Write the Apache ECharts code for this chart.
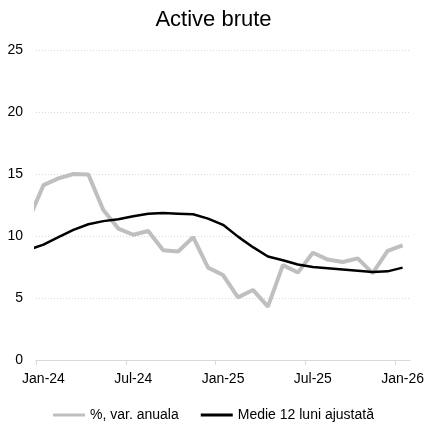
<!DOCTYPE html>
<html>
<head>
<meta charset="utf-8">
<script src="https://cdn.jsdelivr.net/npm/echarts@6/dist/echarts.min.js"></script>
<style>
    html, body { margin: 0; padding: 0; background: #fff; }
    #chart { width: 427px; height: 430px; }
</style>
</head>
<body>
<div id="chart"></div>
<script>
// first month (Dec-23) sits left of the axis and only shows as a clipped segment
let months = ['Dec-23',
    'Jan-24', 'Feb-24', 'Mar-24', 'Apr-24', 'May-24', 'Jun-24', 'Jul-24', 'Aug-24', 'Sep-24', 'Oct-24', 'Nov-24', 'Dec-24',
    'Jan-25', 'Feb-25', 'Mar-25', 'Apr-25', 'May-25', 'Jun-25', 'Jul-25', 'Aug-25', 'Sep-25', 'Oct-25', 'Nov-25', 'Dec-25',
    'Jan-26'];

let varAnuala = [11.3,
    14.1, 14.65, 15.0, 14.95, 12.1, 10.6, 10.1, 10.4, 8.85, 8.75, 9.9, 7.45,
    6.85, 5.05, 5.65, 4.3, 7.65, 7.05, 8.65, 8.1, 7.9, 8.2, 7.0, 8.8,
    9.25];

let medie12 = [8.9,
    9.3, 9.9, 10.5, 10.95, 11.2, 11.35, 11.6, 11.8, 11.85, 11.8, 11.75, 11.4,
    10.9, 9.95, 9.1, 8.35, 8.05, 7.7, 7.5, 7.4, 7.3, 7.2, 7.1, 7.15,
    7.45];

let labelMonths = ['Jan-24', 'Jul-24', 'Jan-25', 'Jul-25', 'Jan-26'];
let yTicks = [0, 5, 10, 15, 20, 25];

let font = 'Liberation Sans, Arial, sans-serif';

// x position = month index, Jan-24 = 0
let monthPos = months.map((m, i) => i - 1);
let labelPos = labelMonths.map(m => months.indexOf(m) - 1);
let tickPos = labelPos.map(p => p - 0.5);

let option = {
    animation: false,
    backgroundColor: '#fff',
    textStyle: { fontFamily: font },
    title: {
        text: 'Active brute',
        left: 'center',
        top: 4,
        textStyle: { fontFamily: font, fontSize: 22, fontWeight: 'normal', color: '#000' }
    },
    legend: {
        bottom: 3,
        left: 'center',
        itemWidth: 32,
        itemHeight: 3,
        itemGap: 22,
        textStyle: { fontFamily: font, fontSize: 14, color: '#000' },
        data: [
            { name: '%, var. anuala', icon: 'rect', itemStyle: { color: '#bfbfbf' } },
            { name: 'Medie 12 luni ajustată', icon: 'rect', itemStyle: { color: '#000' } }
        ]
    },
    grid: { left: 36, right: 14, top: 50, bottom: 70 },
    xAxis: {
        type: 'value',
        min: -0.5,
        max: monthPos[monthPos.length - 1] + 0.5,
        axisLine: { show: true, onZero: false, lineStyle: { color: '#d9d9d9', width: 1 } },
        axisTick: { show: true, customValues: tickPos, length: 5, lineStyle: { color: '#d9d9d9' } },
        axisLabel: {
            customValues: labelPos,
            margin: 12,
            fontSize: 14,
            color: '#000',
            fontFamily: font,
            formatter: v => months[Math.round(v) + 1]
        },
        splitLine: { show: false }
    },
    yAxis: {
        type: 'value',
        min: yTicks[0],
        max: yTicks[yTicks.length - 1],
        interval: 5,
        axisLine: { show: false },
        axisTick: { show: false },
        axisLabel: { fontSize: 14, color: '#000', margin: 13, fontFamily: font },
        splitLine: { lineStyle: { color: '#d9d9d9', type: [1, 2], width: 1 } }
    },
    series: [
        {
            name: '%, var. anuala',
            type: 'line',
            symbol: 'none',
            clip: true,
            color: '#bfbfbf',
            lineStyle: { color: '#bfbfbf', width: 4 },
            data: varAnuala.map((v, i) => [monthPos[i], v])
        },
        {
            name: 'Medie 12 luni ajustată',
            type: 'line',
            symbol: 'none',
            clip: true,
            color: '#000',
            lineStyle: { color: '#000', width: 2.5 },
            data: medie12.map((v, i) => [monthPos[i], v])
        }
    ]
};

let chart = echarts.init(document.getElementById('chart'));
chart.setOption(option);
</script>
</body>
</html>
